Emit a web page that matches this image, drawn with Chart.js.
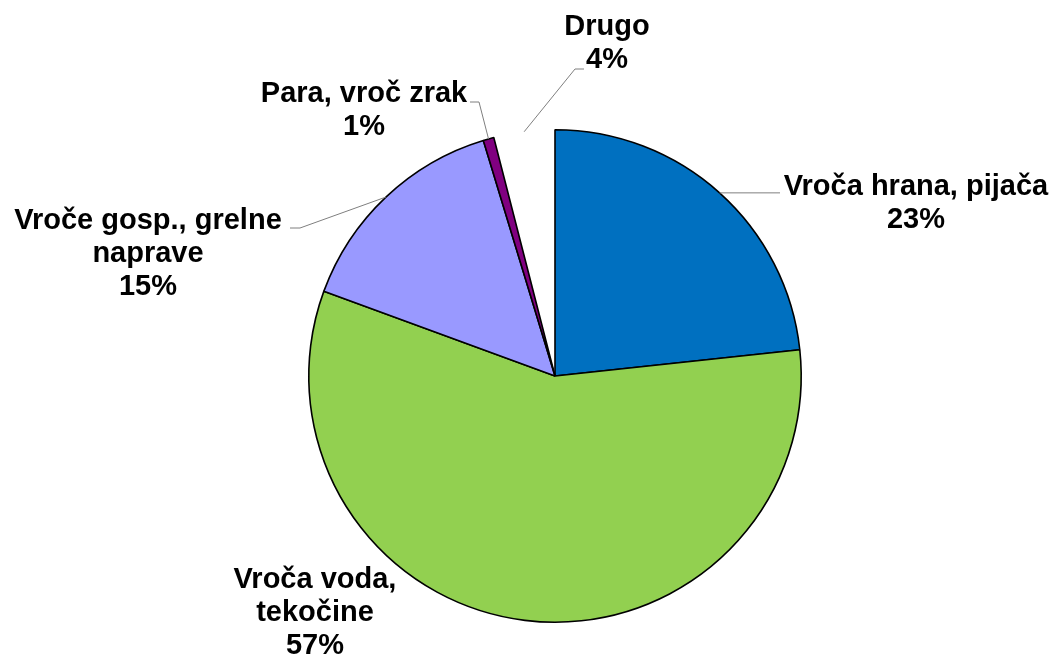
<!DOCTYPE html>
<html>
<head>
<meta charset="utf-8">
<script src="https://cdn.jsdelivr.net/npm/chart.js@4"></script>
<style>
  html, body { margin: 0; padding: 0; background: #fff; }
  #wrap { width: 1055px; height: 660px; }
</style>
</head>
<body>
<div id="wrap"><canvas id="pie" width="1055" height="660"></canvas></div>
<script>
// data
const categories = [
    ['Vroča hrana, pijača'],
    ['Vroča voda,', 'tekočine'],
    ['Vroče gosp., grelne', 'naprave'],
    ['Para, vroč zrak'],
    ['Drugo']
];
const shares = [23.3, 57.3, 14.7, 0.7, 4.0];
const colors = ['#0070C0', '#92D050', '#9999FF', '#800080', 'rgba(0,0,0,0)'];

// label placement, relative to pie centre: text centre x / first baseline y, leader bend and end
const labelSpots = [
    { tx: 361, ty: -181, bend: null, end: [225, -185] },
    { tx: -240, ty: 212, bend: null, end: null },
    { tx: -407, ty: -147, bend: [-255, -148], end: [-265, -148] },
    { tx: -191, ty: -274, bend: [-76, -274], end: [-85, -274] },
    { tx: 52, ty: -341, bend: [20, -307], end: [29, -307] }
];

const total = shares.reduce((a, b) => a + b, 0);

const sliceLabels = {
    id: 'sliceLabels',
    afterDatasetsDraw(chart) {
        const ctx = chart.ctx;
        const arcs = chart.getDatasetMeta(0).data;
        ctx.save();
        arcs.forEach((arc, i) => {
            const { x, y, startAngle, endAngle, outerRadius } = arc.getProps(['x', 'y', 'startAngle', 'endAngle', 'outerRadius'], true);
            const mid = (startAngle + endAngle) / 2;
            const spot = labelSpots[i];
            if (spot.end) {
                ctx.beginPath();
                ctx.strokeStyle = '#7f7f7f';
                ctx.lineWidth = 1;
                ctx.moveTo(x + Math.cos(mid) * outerRadius, y + Math.sin(mid) * outerRadius);
                if (spot.bend) {
                    ctx.lineTo(x + spot.bend[0], y + spot.bend[1]);
                    ctx.lineTo(x + spot.end[0], y + spot.end[1]);
                } else {
                    ctx.lineTo(x + spot.end[0], y + Math.sin(mid) * outerRadius);
                }
                ctx.stroke();
            }
            const lines = categories[i].concat([Math.round(shares[i] / total * 100) + '%']);
            ctx.fillStyle = '#000';
            ctx.font = 'bold 29px "Liberation Sans", Arial, sans-serif';
            ctx.textAlign = 'center';
            ctx.textBaseline = 'alphabetic';
            lines.forEach((t, k) => {
                ctx.fillText(t, x + spot.tx, y + spot.ty + k * 33);
            });
        });
        ctx.restore();
    }
};

new Chart(document.getElementById('pie'), {
    type: 'pie',
    data: {
        labels: categories,
        datasets: [{
            data: shares,
            backgroundColor: colors,
            borderColor: ['#000', '#000', '#000', '#000', 'rgba(0,0,0,0)'],
            borderWidth: [1.6, 1.6, 1.6, 1.6, 0]
        }]
    },
    options: {
        responsive: false,
        animation: false,
        layout: {
            padding: { top: 129, bottom: 37, left: 308, right: 253 }
        },
        plugins: {
            legend: { display: false },
            tooltip: { enabled: false }
        }
    },
    plugins: [sliceLabels]
});
</script>
</body>
</html>
